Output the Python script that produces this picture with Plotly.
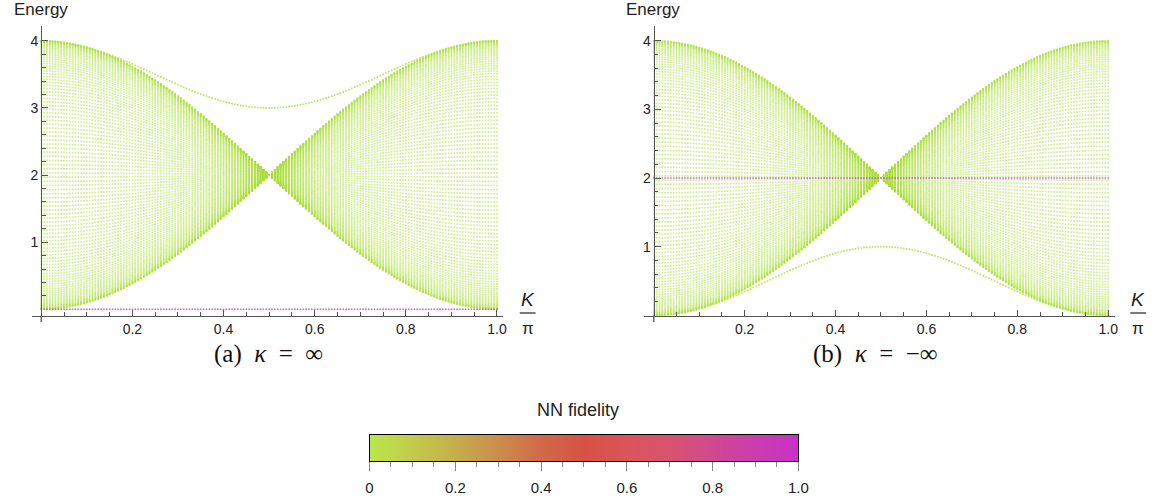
import numpy as np
import plotly.graph_objects as go

W, H = 1163, 499

# ---- data ----
N_K = 161                      # number of K/pi sample columns
N_BANDS = 100                  # number of bulk bands
k_values = np.linspace(0.0, 1.0, N_K)
band_center = 2.0              # all bulk bands meet at E=2 for K/pi=0.5
band_halfwidth = 2.0           # bulk spans 0..4 at K/pi = 0 and 1
band_index = np.arange(1, N_BANDS + 1)

edge_a_top_min = 3.0           # panel (a) upper isolated state: 4 -> 3 -> 4
edge_a_flat = 0.0              # panel (a) flat state (high fidelity)
edge_b_low_max = 1.0           # panel (b) lower isolated state: 0 -> 1 -> 0
edge_b_flat = 2.0              # panel (b) flat state (high fidelity)

x_ticks = [0.2, 0.4, 0.6, 0.8, 1.0]
x_ticktext = ["0.2", "0.4", "0.6", "0.8", "1.0"]
y_ticks = [1, 2, 3, 4]
cb_ticks = [0, 0.2, 0.4, 0.6, 0.8, 1.0]
cb_ticktext = ["0", "0.2", "0.4", "0.6", "0.8", "1.0"]

fidelity_stops = [0.0, 0.1, 0.2, 0.3, 0.4, 0.5, 0.6, 0.7, 0.8, 0.9, 1.0]
fidelity_colors = ["#b9e84c", "#c2cb4b", "#c5ae4c", "#ca8d4c", "#d06a48",
                   "#d75244", "#db545a", "#d8536f", "#d2488f", "#cc3cae", "#c832c8"]

# ---- helpers ----
def px(x):
    return x / W

def py(y):
    return (H - y) / H

GREEN = "rgba(172,224,58,0.55)"
GREEN_EDGE = "rgba(172,224,58,0.8)"
MAGENTA = "rgba(205,70,200,0.85)"
AXIS = "#555555"
FONT = "Liberation Sans, Arial, sans-serif"
SERIF = "Liberation Serif, Times New Roman, serif"

cosk = np.cos(np.pi * k_values)
qn = band_index * np.pi / (N_BANDS + 1)
K_grid, Q_grid = np.meshgrid(k_values, qn)
bulk_E = band_center + band_halfwidth * np.cos(np.pi * K_grid) * np.cos(Q_grid)
bulk_x = K_grid.ravel()
bulk_y = bulk_E.ravel()

edge_a_top = edge_a_top_min + (4.0 - edge_a_top_min) * cosk ** 2
edge_b_low = edge_b_low_max * (1 - cosk ** 2)

fig = go.Figure()

def dots(x, y, color, size, xa, ya):
    fig.add_trace(go.Scatter(x=x, y=y, mode="markers", xaxis=xa, yaxis=ya,
                             marker=dict(size=size, color=color, symbol="square",
                                         line=dict(width=0)),
                             hoverinfo="skip", showlegend=False))

# panel (a)
dots(bulk_x, bulk_y, GREEN, 1.7, "x", "y")
dots(k_values, edge_a_top, GREEN_EDGE, 1.7, "x", "y")
dots(k_values, np.full(N_K, edge_a_flat), MAGENTA, 1.6, "x", "y")
# panel (b)
dots(bulk_x, bulk_y, GREEN, 1.7, "x2", "y2")
dots(k_values, edge_b_low, GREEN_EDGE, 1.7, "x2", "y2")
dots(k_values, np.full(N_K, edge_b_flat), MAGENTA, 1.6, "x2", "y2")

# colour bar as heatmap
fid = np.linspace(0, 1, 301)
colorscale = [[s, c] for s, c in zip(fidelity_stops, fidelity_colors)]
fig.add_trace(go.Heatmap(z=[fid, fid], x=fid, y=[0, 1], colorscale=colorscale,
                         zmin=0, zmax=1, showscale=False, hoverinfo="skip",
                         xaxis="x3", yaxis="y3"))

minor_x = [round(v, 2) for v in np.arange(0.05, 1.0, 0.05) if abs(v / 0.2 - round(v / 0.2)) > 1e-6]
minor_y = [round(v, 1) for v in np.arange(0.2, 4.2, 0.2) if abs(v - round(v)) > 1e-6]

def xaxis_cfg(x0, x1, rng):
    return dict(domain=[px(x0), px(x1)], range=rng, showgrid=False, zeroline=False,
                showline=True, linecolor=AXIS, linewidth=1.3,
                ticks="inside", ticklen=6, tickwidth=1, tickcolor=AXIS,
                tickmode="array", tickvals=x_ticks, ticktext=x_ticktext,
                tickfont=dict(family=FONT, size=14, color="#222"),
                minor=dict(tickmode="array", tickvals=minor_x, ticks="inside",
                           ticklen=3.5, tickcolor=AXIS, tickwidth=1, showgrid=False))

def yaxis_cfg(anchor_x, rng):
    return dict(domain=[py(315.7), py(26)], range=rng, showgrid=False, zeroline=False,
                anchor="free", position=px(anchor_x),
                showline=True, linecolor=AXIS, linewidth=1.3,
                ticks="inside", ticklen=6, tickwidth=1, tickcolor=AXIS,
                tickmode="array", tickvals=y_ticks,
                tickfont=dict(family=FONT, size=14, color="#222"),
                minor=dict(tickmode="array", tickvals=minor_y, ticks="inside",
                           ticklen=3.5, tickcolor=AXIS, tickwidth=1, showgrid=False))

layout = dict(
    width=W, height=H, margin=dict(l=0, r=0, t=0, b=0),
    paper_bgcolor="white", plot_bgcolor="white", showlegend=False,
    xaxis=dict(xaxis_cfg(28, 505, [-0.021, 1.013]), anchor="y"),
    yaxis=yaxis_cfg(37.7, [-0.095, 4.22]),
    xaxis2=dict(xaxis_cfg(647.6, 1125, [-0.022, 1.016]), anchor="y2"),
    yaxis2=yaxis_cfg(657.7, [-0.005, 4.214]),
    xaxis3=dict(domain=[px(370), px(804)], range=[0, 1], anchor="y3",
                showgrid=False, zeroline=False, showline=True, mirror=True,
                linecolor="black", linewidth=1,
                ticks="outside", ticklen=8.5, tickwidth=1, tickcolor="#888",
                tickmode="array", tickvals=cb_ticks, ticktext=cb_ticktext,
                ticklabelstandoff=4,
                tickfont=dict(family=FONT, size=15, color="#222"),
                minor=dict(tickmode="array", tickvals=minor_x, ticks="outside",
                           ticklen=5, tickcolor="#888", tickwidth=1, showgrid=False)),
    yaxis3=dict(domain=[py(461.3), py(435)], range=[0, 1], anchor="x3",
                showgrid=False, zeroline=False, showline=True, mirror=True,
                linecolor="black", linewidth=1, showticklabels=False, ticks=""),
)
fig.update_layout(**layout)

ann = []
def text(x, y, s, size, family=FONT, color="#222"):
    ann.append(dict(x=px(x), y=py(y), xref="paper", yref="paper", text=s,
                    showarrow=False, xanchor="center", yanchor="middle",
                    font=dict(family=family, size=size, color=color)))

text(37, 9, "Energy", 17)
text(657, 9, "Energy", 17)
for cx in (530, 1148):
    text(cx, 300, "<i>K</i>", 19)
    text(cx, 328, "π", 17)
text(268, 354, "(a)&nbsp; <i>κ</i>&nbsp; =&nbsp; ∞", 25, family=SERIF, color="#111")
text(882, 354, "(b)&nbsp; <i>κ</i>&nbsp; =&nbsp; −∞", 25, family=SERIF, color="#111")
text(581, 410, "NN fidelity", 18)
fig.update_layout(annotations=ann)

shapes = []
for cx in (530, 1148):
    shapes.append(dict(type="line", xref="paper", yref="paper",
                       x0=px(cx - 8), x1=px(cx + 8), y0=py(313), y1=py(313),
                       line=dict(color="#222", width=1.2)))
for ax_x in (37.7, 657.7):
    shapes.append(dict(type="line", xref="paper", yref="paper",
                       x0=px(ax_x), x1=px(ax_x), y0=py(315.7), y1=py(322),
                       line=dict(color=AXIS, width=1.3)))
fig.update_layout(shapes=shapes)

fig.write_html("out.html", config={"displayModeBar": False, "responsive": False})
# remove the browser's default page margin so the figure fills the window exactly
with open("out.html", "r", encoding="utf-8") as f:
    html = f.read()
html = html.replace("<head>", "<head><style>html,body{margin:0;padding:0;overflow:hidden;}</style>", 1)
with open("out.html", "w", encoding="utf-8") as f:
    f.write(html)
